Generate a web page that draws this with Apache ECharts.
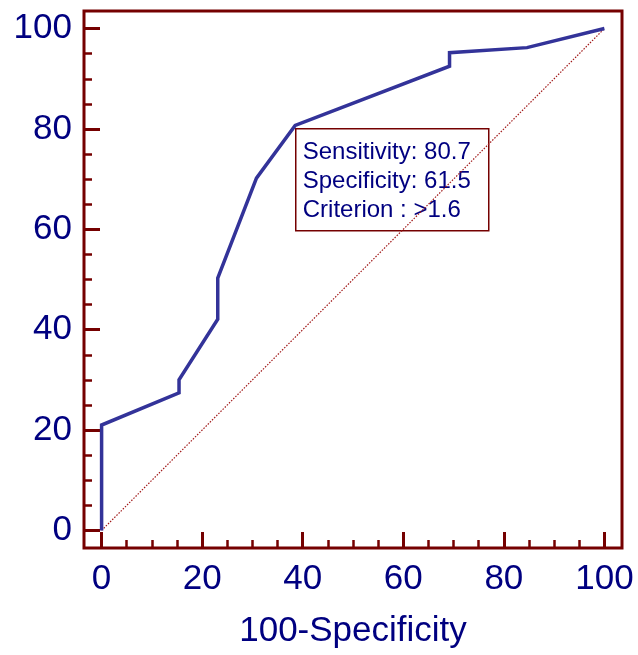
<!DOCTYPE html>
<html>
<head>
<meta charset="utf-8">
<script src="https://cdn.jsdelivr.net/npm/echarts@6/dist/echarts.min.js"></script>
<style>
    html, body { margin: 0; padding: 0; background: #fff; }
    #rocChart { width: 638px; height: 655px; }
</style>
</head>
<body>
<div id="rocChart"></div>
<script>
// ROC curve points: 100-Specificity, Sensitivity
var fpr = [0, 0, 15.4, 15.4, 23.1, 23.1, 30.8, 38.5, 69.2, 69.2, 84.6, 100];
var tpr = [0, 21, 27.4, 30, 42.1, 50.3, 70.2, 80.7, 92.5, 95.2, 96.2, 100];
var diagonal = [[0, 0], [100, 100]];
var majorTicks = [0, 20, 40, 60, 80, 100];
var minorTicks = [5, 10, 15, 25, 30, 35, 45, 50, 55, 65, 70, 75, 85, 90, 95];
var infoLines = ['Sensitivity: 80.7', 'Specificity: 61.5', 'Criterion : >1.6'];

var frameColor = '#750000';
var textColor = '#000080';
var fontName = "'Liberation Sans', Arial, sans-serif";

var myChart = echarts.init(document.getElementById('rocChart'));

function makeAxis(isMajor, extra) {
    var ax = {
        type: 'value',
        min: -3.5,
        max: 103.5,
        splitLine: { show: false },
        axisLine: { show: false, onZero: false },
        axisTick: {
            show: true,
            inside: true,
            length: isMajor ? 16 : 8,
            customValues: isMajor ? majorTicks : minorTicks,
            lineStyle: { color: frameColor, width: isMajor ? 3 : 2.5 }
        },
        axisLabel: { show: false }
    };
    return Object.assign(ax, extra);
}

var curve = [];
for (var i = 0; i < fpr.length; i++) {
    curve.push([fpr[i], tpr[i]]);
}

var option = {
    animation: false,
    backgroundColor: '#fff',
    grid: {
        left: 84,
        right: 16,
        top: 11,
        bottom: 107,
        show: true,
        borderColor: frameColor,
        borderWidth: 3,
        backgroundColor: 'transparent'
    },
    xAxis: [
        makeAxis(true, {
            position: 'bottom',
            name: '100-Specificity',
            nameLocation: 'middle',
            nameGap: 66,
            nameTextStyle: { color: textColor, fontSize: 35, fontFamily: fontName },
            axisLabel: {
                show: true,
                customValues: majorTicks,
                color: textColor,
                fontSize: 35,
                fontFamily: fontName,
                margin: 14
            }
        }),
        makeAxis(false, { position: 'bottom' })
    ],
    yAxis: [
        makeAxis(true, {
            position: 'left',
            axisLabel: {
                show: true,
                customValues: majorTicks,
                color: textColor,
                fontSize: 35,
                fontFamily: fontName,
                margin: 12
            }
        }),
        makeAxis(false, { position: 'left' })
    ],
    series: [
        {
            name: 'diagonal',
            type: 'line',
            data: diagonal,
            symbol: 'none',
            silent: true,
            lineStyle: { color: '#a01818', width: 1.2, type: [1.5, 1.5] }
        },
        {
            name: 'ROC',
            type: 'line',
            data: curve,
            symbol: 'none',
            lineStyle: { color: '#333399', width: 3.5, join: 'miter' }
        }
    ],
    graphic: [
        {
            type: 'group',
            left: 295,
            top: 128,
            z: 100,
            children: [
                {
                    type: 'rect',
                    shape: { x: 0, y: 0, width: 193, height: 102 },
                    style: { fill: '#fff', stroke: frameColor, lineWidth: 1.5 }
                },
                {
                    type: 'text',
                    x: 7,
                    y: 9,
                    style: {
                        text: infoLines.join('\n'),
                        fill: textColor,
                        font: '24px ' + fontName,
                        lineHeight: 29
                    }
                }
            ]
        }
    ]
};
myChart.setOption(option);
</script>
</body>
</html>
